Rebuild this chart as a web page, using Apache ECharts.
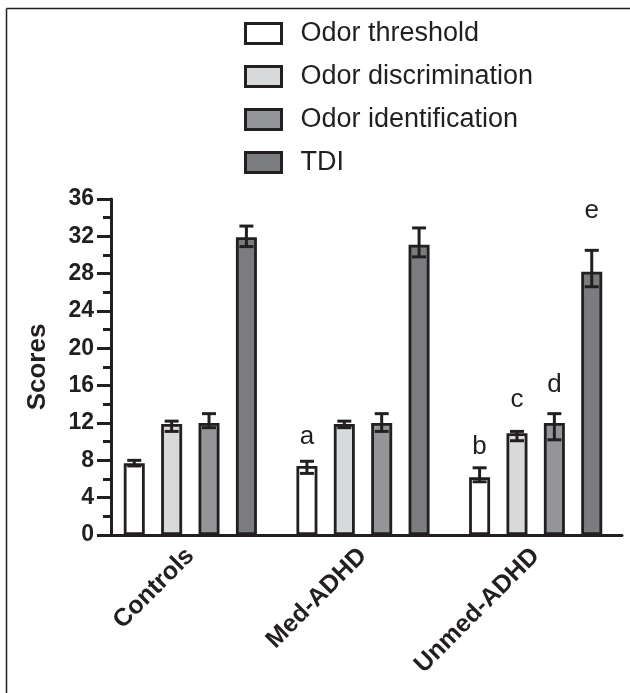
<!DOCTYPE html>
<html>
<head>
<meta charset="utf-8">
<script src="https://cdn.jsdelivr.net/npm/echarts@6/dist/echarts.min.js"></script>
<style>
html,body{margin:0;padding:0;background:#fff;}
#chart{width:630px;height:693px;}
</style>
</head>
<body>
<div id="chart"></div>
<script>
// ---- data ----
const categories = ['Controls', 'Med-ADHD', 'Unmed-ADHD'];
const seriesNames = ['Odor threshold', 'Odor discrimination', 'Odor identification', 'TDI'];

const thresholdMean = [7.7, 7.4, 6.2];
const thresholdLow  = [7.4, 6.6, 5.7];
const thresholdHigh = [8.0, 7.9, 7.2];

const discriminationMean = [11.9, 11.9, 10.9];
const discriminationLow  = [11.1, 11.5, 10.1];
const discriminationHigh = [12.2, 12.2, 11.1];

const identificationMean = [12.0, 12.0, 12.0];
const identificationLow  = [11.5, 11.1, 10.2];
const identificationHigh = [13.0, 13.0, 13.0];

const tdiMean = [31.9, 31.1, 28.2];
const tdiLow  = [30.9, 29.8, 26.6];
const tdiHigh = [33.1, 32.9, 30.5];

// significance letters and the score level at which each is written
const thresholdLetters = ['', 'a', 'b'];
const thresholdLetterAt = [null, 10.5, 9.5];
const discriminationLetters = ['', '', 'c'];
const discriminationLetterAt = [null, null, 14.5];
const identificationLetters = ['', '', 'd'];
const identificationLetterAt = [null, null, 16.1];
const tdiLetters = ['', '', 'e'];
const tdiLetterAt = [null, null, 34.7];

const yTicks = [0, 4, 8, 12, 16, 20, 24, 28, 32, 36];

// ---- styling ----
const INK = '#231f20';
const fills = ['#ffffff', '#d8d9db', '#939598', '#7b7c7f'];
const BAR_W = 21;
const BAR_GAP = '78%';
const FONT = '"Liberation Sans", Arial, sans-serif';

const means = [thresholdMean, discriminationMean, identificationMean, tdiMean];
const lows = [thresholdLow, discriminationLow, identificationLow, tdiLow];
const highs = [thresholdHigh, discriminationHigh, identificationHigh, tdiHigh];
const letters = [thresholdLetters, discriminationLetters, identificationLetters, tdiLetters];
const letterAt = [thresholdLetterAt, discriminationLetterAt, identificationLetterAt, tdiLetterAt];

const chart = echarts.init(document.getElementById('chart'), null, {renderer: 'canvas'});

const series = [];
seriesNames.forEach((name, i) => {
  series.push({
    name: name,
    type: 'bar',
    barWidth: BAR_W,
    barGap: BAR_GAP,
    data: means[i],
    itemStyle: {color: fills[i], borderColor: INK, borderWidth: 2.8},
    emphasis: {disabled: true},
    animation: false,
    z: 2
  });
});
seriesNames.forEach((name, i) => {
  series.push({
    name: name + ' error',
    type: 'custom',
    animation: false,
    z: 5,
    clip: false,
    data: categories.map((c, k) => [k, lows[i][k], highs[i][k]]),
    encode: {x: 0, y: [1, 2]},
    renderItem: function (params, api) {
      const k = api.value(0);
      const layout = api.barLayout({barWidth: BAR_W, barGap: BAR_GAP, count: 4});
      const off = layout[i].offsetCenter;
      const lo = api.coord([k, api.value(1)]);
      const hi = api.coord([k, api.value(2)]);
      const x = lo[0] + off;
      const cap = 7;
      const style = {stroke: INK, lineWidth: 3, fill: null};
      const children = [
        {type: 'line', shape: {x1: x, y1: lo[1], x2: x, y2: hi[1]}, style: style},
        {type: 'line', shape: {x1: x - cap, y1: lo[1], x2: x + cap, y2: lo[1]}, style: style},
        {type: 'line', shape: {x1: x - cap, y1: hi[1], x2: x + cap, y2: hi[1]}, style: style}
      ];
      const letter = letters[i][params.dataIndex];
      const lv = letterAt[i][params.dataIndex];
      if (letter && lv != null) {
        const p = api.coord([k, lv]);
        children.push({
          type: 'text',
          x: x, y: p[1],
          style: {text: letter, fill: INK, font: '26px ' + FONT, align: 'center', verticalAlign: 'middle'}
        });
      }
      return {type: 'group', children: children};
    }
  });
});

chart.setOption({
  backgroundColor: '#ffffff',
  animation: false,
  textStyle: {fontFamily: FONT},
  graphic: [
    {type: 'line', shape: {x1: 6.5, y1: 8.5, x2: 630, y2: 8.5}, style: {stroke: INK, lineWidth: 1.5}},
    {type: 'line', shape: {x1: 6.5, y1: 8.5, x2: 6.5, y2: 693}, style: {stroke: INK, lineWidth: 1.5}}
  ],
  legend: {
    data: seriesNames,
    orient: 'vertical',
    left: 244,
    top: 20,
    padding: 0,
    itemWidth: 36,
    itemHeight: 20,
    itemGap: 16,
    icon: 'rect',
    itemStyle: {borderColor: INK, borderWidth: 3},
    textStyle: {fontSize: 27, color: INK, fontFamily: FONT, padding: [0, 0, 0, 14]},
    selectedMode: false
  },
  grid: {left: 104, right: 8, top: 199, bottom: 158, containLabel: false},
  xAxis: {
    type: 'category',
    data: categories,
    axisLine: {lineStyle: {color: INK, width: 3}},
    axisTick: {alignWithLabel: true, length: 11, lineStyle: {color: INK, width: 3}},
    axisLabel: {rotate: 45, fontSize: 25, fontWeight: 'bold', color: INK, margin: 17, fontFamily: FONT}
  },
  yAxis: {
    type: 'value',
    min: 0,
    max: 36,
    interval: 4,
    offset: -7,
    name: 'Scores',
    nameLocation: 'middle',
    nameGap: 60,
    nameTextStyle: {fontSize: 26, fontWeight: 'bold', color: INK, fontFamily: FONT},
    axisLine: {show: true, lineStyle: {color: INK, width: 3}},
    axisTick: {show: true, length: 14, lineStyle: {color: INK, width: 3}},
    minorTick: {show: true, splitNumber: 2, length: 8, lineStyle: {color: INK, width: 3}},
    splitLine: {show: false},
    axisLabel: {fontSize: 23, fontWeight: 'bold', color: INK, margin: 17, fontFamily: FONT,
      formatter: v => (yTicks.indexOf(v) >= 0 ? String(v) : '')}
  },
  series: series
});
</script>
</body>
</html>
